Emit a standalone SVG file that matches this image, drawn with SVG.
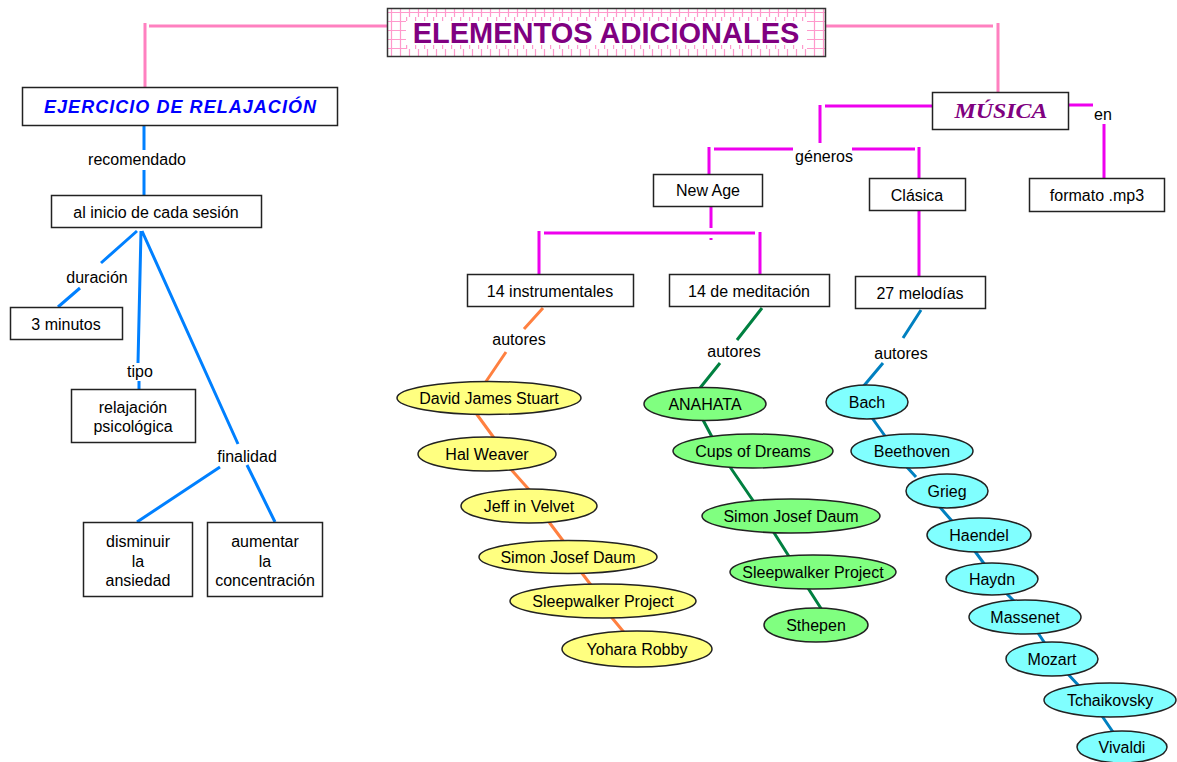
<svg xmlns="http://www.w3.org/2000/svg" width="1177" height="762" viewBox="0 0 1177 762">
<defs>
<pattern id="grid" x="387" y="8" width="9" height="9" patternUnits="userSpaceOnUse">
<rect width="9" height="9" fill="#ffffff"/>
<path d="M4.5 0V9M0 4.5H9" stroke="#ff99cc" stroke-width="1.2"/>
</pattern>
</defs>
<style>
.box{fill:#fff;stroke:#222;stroke-width:1.5}
.t{font-family:"Liberation Sans",Arial,sans-serif;font-size:16px;fill:#000;text-anchor:middle}
.pink{stroke:#ff80c0;stroke-width:3;fill:none}
.mag{stroke:#ee00ee;stroke-width:3;fill:none}
.blue{stroke:#0080ff;stroke-width:3;fill:none}
.org{stroke:#ff8040;stroke-width:3;fill:none}
.grn{stroke:#008040;stroke-width:3;fill:none}
.cb{stroke:#0080c0;stroke-width:3;fill:none}
.ey{fill:#ffff80;stroke:#222;stroke-width:1.5}
.eg{fill:#80ff80;stroke:#222;stroke-width:1.5}
.ec{fill:#80ffff;stroke:#222;stroke-width:1.5}
</style>
<rect width="1177" height="762" fill="#fff"/>
<g id="connectors">
<path class="pink" d="M149 26H388M145 23V87M826 26H993M998 23V92"/>
<path class="blue" d="M144 126V150M144 170V195M137 231L101 263M80 288L58 307M141 231L138 363M139 381V389M142 231L238 444M247 465L275 522M220 467L137 522"/>
<path class="mag" d="M825 106H932M820 105V143M714 149H793M852 149H915M709 147V174M919 147V178M1069 105H1093M1104 124V178M711 207V228M711 238V240M544 233H755M539 231V274M760 232V274M919 211V276"/>
<path class="org" d="M543 308L524 329M506 352L485 383M470 405L497 442M508 466L532 493M546 518L567 546M578 568L594 589M608 613L627 636"/>
<path class="grn" d="M762 308L737 340M720 363L700 388M702 418L712 437M728 464L754 502M771 528L790 558M806 585L822 610"/>
<path class="cb" d="M921 310L903 338M883 363L862 388M870 415L885 436M905 465L916 477M938 505L952 521M974 550L985 565M1006 593L1016 603M1036 630L1046 645M1066 672L1080 687M1100 713L1115 735"/>
</g>
<g id="title">
<rect x="387.5" y="8.5" width="438" height="48" fill="url(#grid)" stroke="#333" stroke-width="1.5"/>
<rect x="406" y="17" width="401" height="32" fill="#fff"/>
<line x1="406" y1="19" x2="807" y2="19" stroke="#ff99cc" stroke-width="4" stroke-dasharray="1.2 7.8"/>
<line x1="406" y1="47" x2="807" y2="47" stroke="#ff99cc" stroke-width="4" stroke-dasharray="1.2 7.8"/>
<text x="606" y="43" style="font-family:'Liberation Sans',Arial,sans-serif;font-size:29px;font-weight:bold;fill:#800080;text-anchor:middle">ELEMENTOS ADICIONALES</text>
</g>
<g id="ejercicio">
<rect class="box" x="22.5" y="87.5" width="315" height="38"/>
<text x="180" y="113" textLength="272" lengthAdjust="spacing" style="font-family:'Liberation Sans',Arial,sans-serif;font-size:18px;font-style:italic;font-weight:bold;fill:#0000ff;text-anchor:middle">EJERCICIO DE RELAJACIÓN</text>
</g>
<g id="lbl-recomendado"><text class="t" x="137" y="165">recomendado</text></g>
<g id="inicio">
<rect class="box" x="51.5" y="195.5" width="210" height="32"/>
<text class="t" x="156" y="218">al inicio de cada sesión</text>
</g>
<g id="lbl-duracion"><text class="t" x="97" y="283">duración</text></g>
<g id="minutos">
<rect class="box" x="10.5" y="307.5" width="112" height="32"/>
<text class="t" x="66" y="330">3 minutos</text>
</g>
<g id="lbl-tipo"><text class="t" x="140" y="377">tipo</text></g>
<g id="relajacion">
<rect class="box" x="71.5" y="389.5" width="124" height="53"/>
<text class="t" x="133" y="413">relajación</text>
<text class="t" x="133" y="432">psicológica</text>
</g>
<g id="lbl-finalidad"><text class="t" x="247" y="462">finalidad</text></g>
<g id="disminuir">
<rect class="box" x="83.5" y="522.5" width="109" height="74"/>
<text class="t" x="138" y="547">disminuir</text>
<text class="t" x="138" y="567">la</text>
<text class="t" x="138" y="586">ansiedad</text>
</g>
<g id="aumentar">
<rect class="box" x="207.5" y="522.5" width="115" height="74"/>
<text class="t" x="265" y="547">aumentar</text>
<text class="t" x="265" y="567">la</text>
<text class="t" x="265" y="586">concentración</text>
</g>
<g id="musica">
<rect class="box" x="932.5" y="92.5" width="136" height="37"/>
<text x="1001" y="118" textLength="93" lengthAdjust="spacingAndGlyphs" style="font-family:'Liberation Serif','Times New Roman',serif;font-size:20px;font-style:italic;font-weight:bold;fill:#800080;text-anchor:middle">MÚSICA</text>
</g>
<g id="lbl-generos"><text class="t" x="824" y="162">géneros</text></g>
<g id="lbl-en"><text class="t" x="1103" y="120">en</text></g>
<g id="newage">
<rect class="box" x="653.5" y="174.5" width="109" height="32"/>
<text class="t" x="708" y="196">New Age</text>
</g>
<g id="clasica">
<rect class="box" x="869.5" y="178.5" width="96" height="32"/>
<text class="t" x="917" y="201">Clásica</text>
</g>
<g id="mp3">
<rect class="box" x="1029.5" y="178.5" width="135" height="33"/>
<text class="t" x="1097" y="201">formato .mp3</text>
</g>
<g id="instrumentales">
<rect class="box" x="467.5" y="274.5" width="166" height="32"/>
<text class="t" x="550" y="297">14 instrumentales</text>
</g>
<g id="meditacion">
<rect class="box" x="669.5" y="274.5" width="160" height="32"/>
<text class="t" x="749" y="297">14 de meditación</text>
</g>
<g id="melodias">
<rect class="box" x="855.5" y="276.5" width="130" height="32"/>
<text class="t" x="920" y="299">27 melodías</text>
</g>
<g id="lbl-autores1"><text class="t" x="519" y="345">autores</text></g>
<g id="lbl-autores2"><text class="t" x="734" y="357">autores</text></g>
<g id="lbl-autores3"><text class="t" x="901" y="359">autores</text></g>
<g id="y-david"><ellipse class="ey" cx="489" cy="398" rx="92" ry="16.5"/><text class="t" x="489" y="403.5">David James Stuart</text></g>
<g id="y-hal"><ellipse class="ey" cx="487" cy="454" rx="69" ry="17"/><text class="t" x="487" y="459.5">Hal Weaver</text></g>
<g id="y-jeff"><ellipse class="ey" cx="529" cy="506" rx="68" ry="17"/><text class="t" x="529" y="511.5">Jeff in Velvet</text></g>
<g id="y-simon"><ellipse class="ey" cx="568" cy="557" rx="89" ry="16.5"/><text class="t" x="568" y="562.5">Simon Josef Daum</text></g>
<g id="y-sleep"><ellipse class="ey" cx="603" cy="601" rx="93" ry="17"/><text class="t" x="603" y="606.5">Sleepwalker Project</text></g>
<g id="y-yohara"><ellipse class="ey" cx="637" cy="649" rx="75" ry="18"/><text class="t" x="637" y="654.5">Yohara Robby</text></g>
<g id="g-anahata"><ellipse class="eg" cx="705" cy="404" rx="61" ry="16.5"/><text class="t" x="705" y="409.5">ANAHATA</text></g>
<g id="g-cups"><ellipse class="eg" cx="753" cy="451" rx="80" ry="17"/><text class="t" x="753" y="456.5">Cups of Dreams</text></g>
<g id="g-simon"><ellipse class="eg" cx="791" cy="516" rx="89" ry="17"/><text class="t" x="791" y="521.5">Simon Josef Daum</text></g>
<g id="g-sleep"><ellipse class="eg" cx="813" cy="572" rx="83" ry="17"/><text class="t" x="813" y="577.5">Sleepwalker Project</text></g>
<g id="g-sthepen"><ellipse class="eg" cx="816" cy="625" rx="52" ry="17"/><text class="t" x="816" y="630.5">Sthepen</text></g>
<g id="c-bach"><ellipse class="ec" cx="867" cy="402" rx="41" ry="17"/><text class="t" x="867" y="407.5">Bach</text></g>
<g id="c-beethoven"><ellipse class="ec" cx="912" cy="451" rx="61" ry="17"/><text class="t" x="912" y="456.5">Beethoven</text></g>
<g id="c-grieg"><ellipse class="ec" cx="947" cy="491" rx="41" ry="17"/><text class="t" x="947" y="496.5">Grieg</text></g>
<g id="c-haendel"><ellipse class="ec" cx="979" cy="535" rx="52" ry="17"/><text class="t" x="979" y="540.5">Haendel</text></g>
<g id="c-haydn"><ellipse class="ec" cx="992" cy="579" rx="46" ry="16"/><text class="t" x="992" y="584.5">Haydn</text></g>
<g id="c-massenet"><ellipse class="ec" cx="1025" cy="617" rx="56" ry="17"/><text class="t" x="1025" y="622.5">Massenet</text></g>
<g id="c-mozart"><ellipse class="ec" cx="1052" cy="659" rx="46" ry="17"/><text class="t" x="1052" y="664.5">Mozart</text></g>
<g id="c-tchaikovsky"><ellipse class="ec" cx="1110" cy="700" rx="66" ry="17"/><text class="t" x="1110" y="705.5">Tchaikovsky</text></g>
<g id="c-vivaldi"><ellipse class="ec" cx="1122" cy="747" rx="45" ry="16"/><text class="t" x="1122" y="752.5">Vivaldi</text></g>
</svg>
